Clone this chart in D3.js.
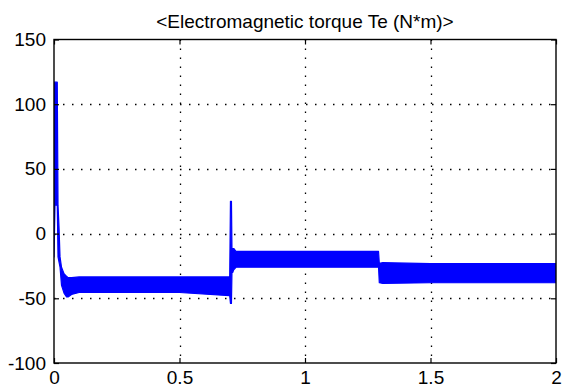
<!DOCTYPE html>
<html><head><meta charset="utf-8">
<script src="https://cdn.jsdelivr.net/npm/d3@7"></script>
<style>
html,body{margin:0;padding:0;background:#fff;}
svg{display:block;}
text{font-family:"Liberation Sans",Arial,sans-serif;fill:#000;}
</style></head>
<body>
<svg id="c" width="562" height="392"></svg>
<script>
// Envelope of the (high-frequency rippled) torque signal
const envT  = [0, 0.004, 0.013, 0.016, 0.020, 0.024, 0.030, 0.040, 0.050, 0.056, 0.070, 0.100, 0.300, 0.500, 0.700, 0.703, 0.707, 0.709, 0.712, 0.716, 0.725, 0.730, 0.900, 1.100, 1.293, 1.296, 1.310, 1.500, 1.700, 2.000];
const envHi = [117, 117, 117, 22, 5, -18, -26, -31, -33, -34, -34, -33.5, -33.5, -33.5, -33.5, 25, 25, -11.5, -11.5, -11.5, -13.8, -13.8, -13.8, -13.8, -13.8, -23, -22.5, -23.2, -23.2, -23.2];
const envLo = [-18, 22, 22, -18, -22, -26, -40, -46, -49, -49, -47, -45.5, -45.5, -45.5, -48, -54, -54, -30, -30, -28, -26, -26, -26, -26, -26, -38, -38.5, -38, -38, -38];
const xTicks = [0, 0.5, 1, 1.5, 2];
const yTicks = [-100, -50, 0, 50, 100, 150];
const xTickLabels = ["0", "0.5", "1", "1.5", "2"];
const yTickLabels = ["-100", "-50", "0", "50", "100", "150"];
const title = "<Electromagnetic torque Te (N*m)>";

const svg = d3.select("#c");
const L = 54, R = 556, T = 39.5, B = 363;
const x = d3.scaleLinear().domain([0, 2]).range([L, R]);
const y = d3.scaleLinear().domain([-100, 150]).range([B, T]);

svg.append("defs").append("clipPath").attr("id", "clip")
  .append("rect").attr("x", L).attr("y", T).attr("width", R - L).attr("height", B - T);

// grid
const g = svg.append("g");
g.selectAll(".gx").data(xTicks.filter(d => d > 0 && d < 2)).enter().append("line")
  .attr("x1", d => Math.round(x(d)) + 0.5).attr("x2", d => Math.round(x(d)) + 0.5)
  .attr("y1", T).attr("y2", B)
  .attr("stroke", "#000").attr("stroke-width", 1.3).attr("stroke-dasharray", "1.5,7.5");
g.selectAll(".gy").data(yTicks.filter(d => d > -100 && d < 150)).enter().append("line")
  .attr("y1", d => Math.round(y(d)) + 0.5).attr("y2", d => Math.round(y(d)) + 0.5)
  .attr("x1", L).attr("x2", R)
  .attr("stroke", "#000").attr("stroke-width", 1.3).attr("stroke-dasharray", "1.5,7.5");

// signal band
const idx = d3.range(envT.length);
const area = d3.area()
  .x(i => x(envT[i])).y0(i => y(envLo[i])).y1(i => y(envHi[i]));
svg.append("path").datum(idx).attr("d", area)
  .attr("clip-path", "url(#clip)")
  .attr("fill", "#0000ff").attr("stroke", "#0000ff").attr("stroke-width", 1.2)
  .attr("stroke-linejoin", "round");

// axes (inward ticks on all sides)
const tk = 5;
const axB = d3.axisBottom(x).tickValues(xTicks).tickSize(-tk).tickPadding(8)
  .tickFormat((d, i) => xTickLabels[i]);
const axT = d3.axisTop(x).tickValues(xTicks).tickSize(-tk).tickFormat("");
const axL = d3.axisLeft(y).tickValues(yTicks).tickSize(-tk).tickPadding(8)
  .tickFormat((d, i) => yTickLabels[i]);
const axR = d3.axisRight(y).tickValues(yTicks).tickSize(-tk).tickFormat("");
function style(s){
  s.select(".domain").remove();
  s.selectAll("line").attr("stroke", "#000").attr("stroke-width", 1.2);
  s.selectAll("text").attr("font-size", 19).attr("font-family", "'Liberation Sans',Arial,sans-serif").attr("fill", "#000");
}
svg.append("g").attr("transform", `translate(0,${B})`).call(axB).call(style);
svg.append("g").attr("transform", `translate(0,${T})`).call(axT).call(style);
svg.append("g").attr("transform", `translate(${L},0)`).call(axL).call(style);
svg.append("g").attr("transform", `translate(${R},0)`).call(axR).call(style);

svg.append("rect").attr("x", L).attr("y", T).attr("width", R - L).attr("height", B - T)
  .attr("fill", "none").attr("stroke", "#000").attr("stroke-width", 1.4);

svg.append("text").attr("x", (L + R) / 2).attr("y", 28).attr("text-anchor", "middle")
  .attr("font-size", 19).text(title);
</script>
</body></html>
